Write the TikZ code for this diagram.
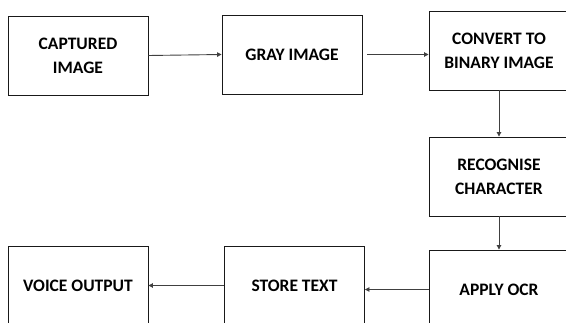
\documentclass[tikz,border=0pt]{standalone}
\usepackage{fontspec}
\setmainfont{Carlito}
\usetikzlibrary{arrows.meta,calc}
\begin{document}
\begin{tikzpicture}[x=1pt,y=-1pt,
  stage/.style={draw=black!90,line width=0.9pt,minimum width=140pt,minimum height=79pt,
    inner sep=0pt,align=center,font=\fontsize{17.5}{24}\selectfont\bfseries,text=black},
  flow/.style={draw=black!75,line width=0.9pt,-{Triangle[length=4.5pt,width=4.5pt]}}]
\useasboundingbox (0,0) rectangle (566,323);
\clip (0,0) rectangle (566,323);
\node[stage] (cap) at (78,55.5) {CAPTURED\\IMAGE};
\node[stage] (gray) at (292,54.5) {GRAY IMAGE};
\node[stage] (bin) at (499,50.5) {CONVERT TO\\BINARY IMAGE};
\node[stage] (rec) at (499,176.5) {RECOGNISE\\CHARACTER};
\node[stage] (ocr) at (499,289.5) {APPLY OCR};
\node[stage] (store) at (294.5,285.5) {STORE TEXT};
\node[stage] (voice) at (78,285.5) {VOICE OUTPUT};
\draw[flow] (cap.east) -- (gray.west);
\draw[flow] ($(gray.east)+(5,0)$) -- (gray.east -| bin.west);
\draw[flow] (bin.south) -- (rec.north);
\draw[flow] (rec.south) -- (ocr.north);
\draw[flow] (ocr.west) -- (ocr.west -| store.east);
\draw[flow] (store.west) -- (voice.east);
\end{tikzpicture}
\end{document}
